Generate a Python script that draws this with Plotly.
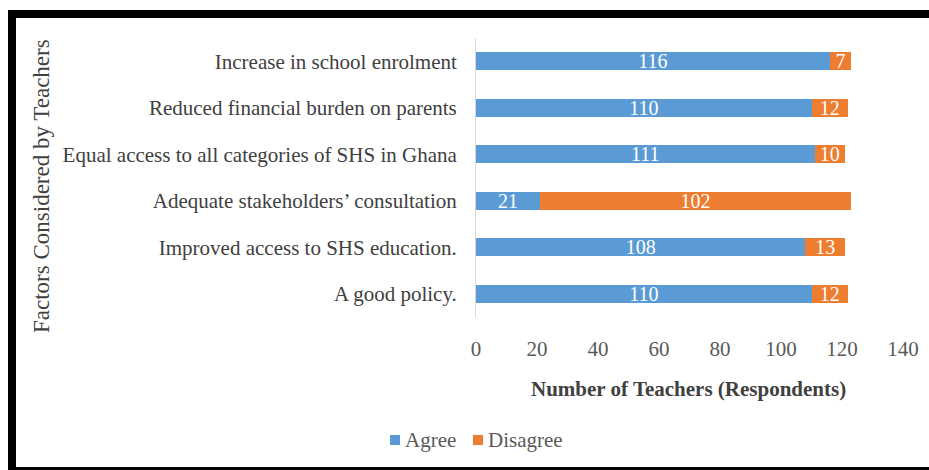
import plotly.graph_objects as go

categories = [
    "Increase in school enrolment",
    "Reduced financial burden on parents",
    "Equal access to all categories of SHS in Ghana",
    "Adequate stakeholders\u2019 consultation",
    "Improved access to SHS education.",
    "A good policy.",
]
agree = [116, 110, 111, 21, 108, 110]
disagree = [7, 12, 10, 102, 13, 12]
x_ticks = [0, 20, 40, 60, 80, 100, 120, 140]
series_names = ["Agree", "Disagree"]

W, H = 929, 470
L, R, T, B = 476, 903, 38, 317  # plot area pixels

def px(x):
    return (x - L) / (R - L)

def py(y):
    return (B - y) / (B - T)

FONT = "Liberation Serif"
BLUE = "#5B9BD5"
ORANGE = "#ED7D31"
colors = [BLUE, ORANGE]
FS = 21

fig = go.Figure()
for name, vals, col in zip(series_names, [agree, disagree], colors):
    fig.add_trace(go.Bar(
        y=categories, x=vals, name=name, orientation="h",
        marker=dict(color=col, line=dict(width=0)),
        text=vals, textposition="inside", insidetextanchor="middle",
        textangle=0, constraintext="none", cliponaxis=False,
        textfont=dict(family=FONT, size=20, color="white"),
        showlegend=False,
    ))

shapes = [
    # frame
    dict(type="rect", xref="paper", yref="paper", x0=px(8), x1=px(940), y0=py(10), y1=py(18),
         fillcolor="black", line=dict(width=0), layer="above"),
    dict(type="rect", xref="paper", yref="paper", x0=px(8), x1=px(16), y0=py(10), y1=py(475),
         fillcolor="black", line=dict(width=0), layer="above"),
    dict(type="rect", xref="paper", yref="paper", x0=px(8), x1=px(940), y0=py(467), y1=py(475),
         fillcolor="black", line=dict(width=0), layer="above"),
]

annotations = [
    dict(text="<b>Number of Teachers (Respondents)</b>", xref="paper", yref="paper",
         x=px(688), y=py(389), showarrow=False, xanchor="center", yanchor="middle",
         font=dict(family=FONT, size=FS, color="#404040")),
    dict(text="Factors Considered by Teachers", xref="paper", yref="paper",
         x=px(41), y=py(186), showarrow=False, xanchor="center", yanchor="middle",
         textangle=-90, font=dict(family=FONT, size=23, color="#404040")),
]

# legend (manual, to match compact spacing)
legend_x = [390, 473]
for name, col, lx in zip(series_names, colors, legend_x):
    shapes.append(dict(type="rect", xref="paper", yref="paper",
                       x0=px(lx), x1=px(lx + 10), y0=py(445), y1=py(435),
                       fillcolor=col, line=dict(width=0)))
    annotations.append(dict(text=name, xref="paper", yref="paper",
                            x=px(lx + 13), y=py(440), showarrow=False,
                            xanchor="left", yanchor="middle",
                            font=dict(family=FONT, size=FS, color="#595959")))

fig.update_layout(
    width=W, height=H,
    margin=dict(l=L, r=W - R, t=T, b=H - B, pad=0, autoexpand=False),
    paper_bgcolor="white", plot_bgcolor="white",
    barmode="stack", bargap=0.62,
    font=dict(family=FONT, size=FS, color="#595959"),
    shapes=shapes, annotations=annotations,
    showlegend=False,
)
fig.update_xaxes(range=[0, 140], tickvals=x_ticks, showgrid=False, zeroline=False,
                 showline=False, ticks="", ticklabelstandoff=17, automargin=False,
                 tickfont=dict(family=FONT, size=FS, color="#595959"))
fig.update_yaxes(autorange="reversed", showgrid=False, showline=True, linecolor="#D9D9D9",
                 linewidth=1, ticks="", ticklabelstandoff=14, automargin=False,
                 tickfont=dict(family=FONT, size=FS, color="#404040"))

fig.write_html("out.html")
